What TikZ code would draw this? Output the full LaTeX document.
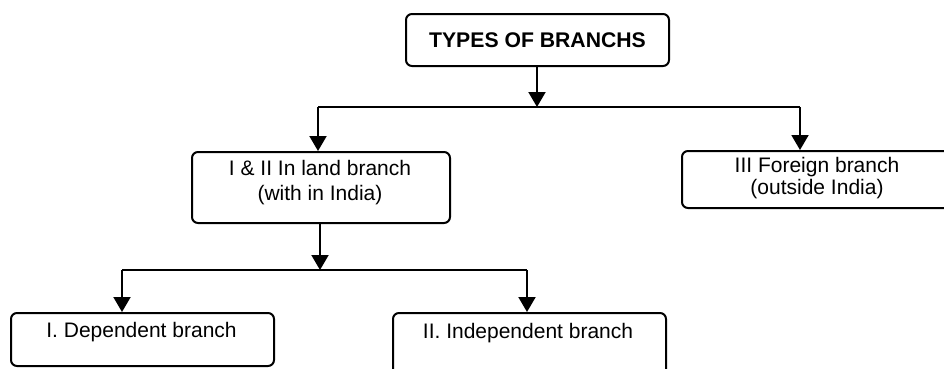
\documentclass[tikz,border=0pt]{standalone}
\usepackage{fontspec}
\setmainfont{Liberation Sans}
\usetikzlibrary{arrows.meta}
\begin{document}
\begin{tikzpicture}[x=1pt,y=-1pt,
  box/.style={draw, line width=2pt, rounded corners=6pt, inner sep=0pt},
  txt/.style={font=\fontsize{21}{25}\selectfont, align=center, inner sep=0pt},
  conn/.style={line width=2pt},
  arr/.style={line width=2pt, -{Triangle[length=15pt,width=17pt]}}]
\useasboundingbox (0,0) rectangle (944,368);
% boxes
\node[box, anchor=north west, minimum width=263pt, minimum height=52pt, font=\bfseries\fontsize{21.2}{25}\selectfont] (top) at (405,13) {TYPES OF BRANCHS};
\node[box, anchor=north west, minimum width=258pt, minimum height=71pt] (inland) at (191,151) {};
\node[txt] (inlandt) at (320,182.5) {I \& II In land branch\\(with in India)};
\node[box, anchor=north west, minimum width=274pt, minimum height=57pt] (foreign) at (681,150) {};
\node[txt, font=\fontsize{21}{22.5}\selectfont] (foreignt) at (817,178) {III Foreign branch\\(outside India)};
\node[box, anchor=north west, minimum width=263pt, minimum height=53pt] (dep) at (10,312) {};
\node[txt] (dept) at (141.5,332) {I. Dependent branch};
\node[box, anchor=north west, minimum width=273pt, minimum height=70pt] (indep) at (392,312) {};
\node[txt] (indept) at (528,333) {II. Independent branch};
% connectors
\coordinate (j1) at (537,107);
\coordinate (j1l) at (318,107);
\coordinate (j1r) at (800,107);
\coordinate (j2) at (320,270);
\coordinate (j2l) at (122,270);
\coordinate (j2r) at (527,270);
\draw[arr] (top.south -| j1) -- (j1);
\draw[conn] (j1l) -- (j1r);
\draw[arr] (j1l) -- (j1l |- inland.north);
\draw[arr] (j1r) -- (j1r |- foreign.north);
\draw[arr] (inland.south -| j2) -- (j2);
\draw[conn] (j2l) -- (j2r);
\draw[arr] (j2l) -- (j2l |- dep.north);
\draw[arr] (j2r) -- (j2r |- indep.north);
\end{tikzpicture}
\end{document}
